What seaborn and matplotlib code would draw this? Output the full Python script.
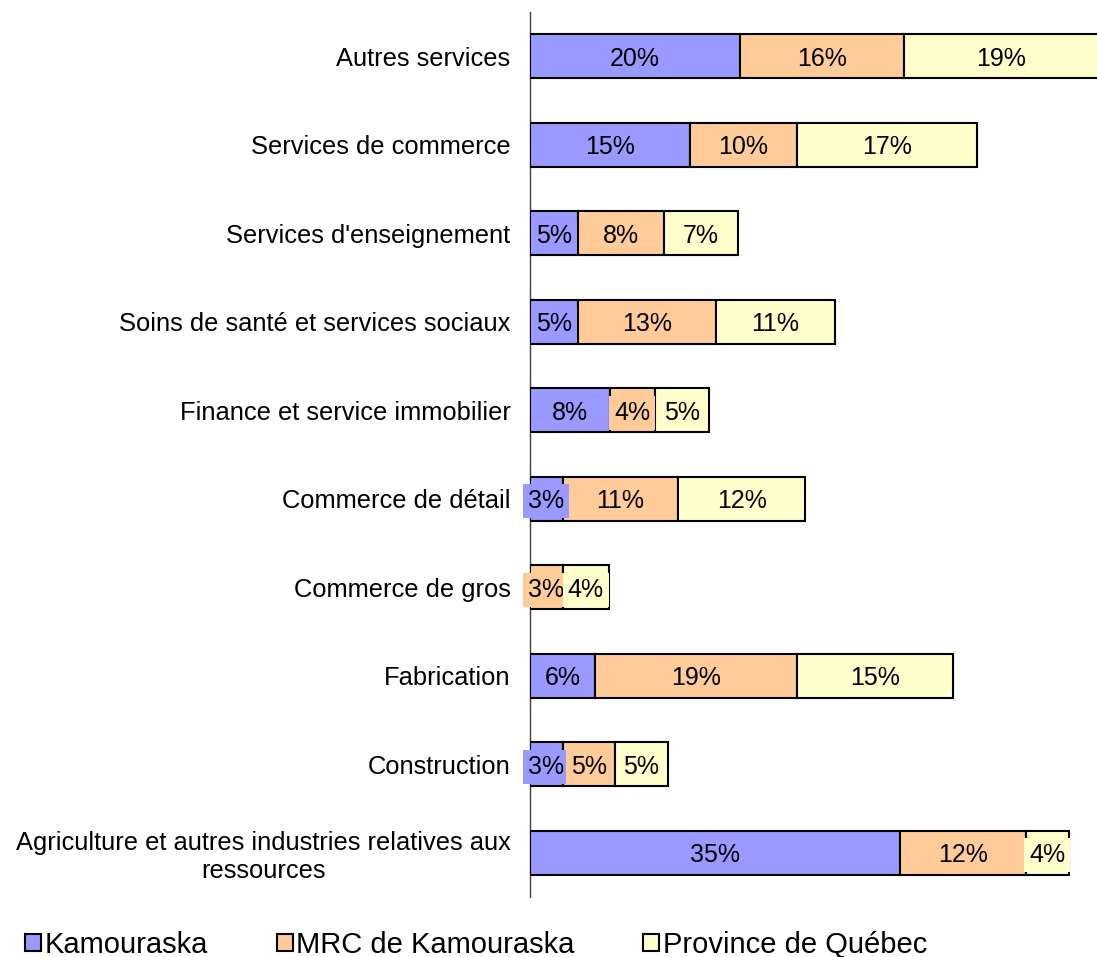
import matplotlib
matplotlib.use("Agg")
import matplotlib.pyplot as plt
from matplotlib.patches import Patch
import seaborn as sns
import pandas as pd
import numpy as np

categories = [
    "Autres services",
    "Services de commerce",
    "Services d'enseignement",
    "Soins de santé et services sociaux",
    "Finance et service immobilier",
    "Commerce de détail",
    "Commerce de gros",
    "Fabrication",
    "Construction",
    "Agriculture et autres industries relatives aux\nressources",
]
kamouraska = [20.0, 15.2, 4.6, 4.6, 7.6, 3.1, 0.0, 6.2, 3.1, 35.2]
mrc = [15.6, 10.2, 8.2, 13.1, 4.3, 11.0, 3.1, 19.2, 5.0, 12.0]
province = [18.6, 17.2, 7.0, 11.3, 5.1, 12.1, 4.4, 14.9, 5.0, 4.1]
series_names = ["Kamouraska", "MRC de Kamouraska", "Province de Québec"]
colors = ["#9999FF", "#FFCC99", "#FFFFCC"]

sns.set_style("white")
plt.rcParams["font.family"] = ["Liberation Sans", "DejaVu Sans"]

fig = plt.figure(figsize=(10.97, 9.57), dpi=100)
ax = fig.add_axes([530 / 1097, 1 - 897 / 957, 1 - 530 / 1097, (897 - 12) / 957])

series = [kamouraska, mrc, province]
lefts = np.zeros(len(categories))
for name, vals, col in zip(series_names, series, colors):
    df = pd.DataFrame({"cat": categories, "val": vals})
    sns.barplot(data=df, x="val", y="cat", order=categories, orient="y",
                color=col, saturation=1, width=0.5, left=lefts.copy(),
                edgecolor="black", linewidth=1.5, ax=ax, zorder=2)
    for i, v in enumerate(vals):
        if v > 0:
            ax.text(lefts[i] + v / 2, i, f"{v:.0f}%", ha="center",
                    va="center_baseline",
                    fontsize=18, color="black", zorder=5, clip_on=False,
                    bbox=dict(boxstyle="square,pad=0.2", facecolor=col,
                              edgecolor="none"))
    lefts += np.array(vals)

ax.set_xlim(0, 54)
ax.set_ylim(len(categories) - 0.5, -0.5)
ax.set_xlabel("")
ax.set_ylabel("")
ax.set_xticks([])
for s in ["top", "right", "bottom"]:
    ax.spines[s].set_visible(False)
ax.spines["left"].set_color("#404040")
ax.spines["left"].set_linewidth(1.0)
ax.spines["left"].set_zorder(1)
ax.tick_params(axis="y", length=0, pad=14, labelsize=18.4, labelcolor="black")
for lbl in ax.get_yticklabels():
    lbl.set_multialignment("center")

handles = [Patch(facecolor=c, edgecolor="black", linewidth=1.5) for c in colors]
fig.legend(handles, series_names, loc="center left",
           bbox_to_anchor=(0.023, 1 - 945 / 957), ncol=3, frameon=False,
           fontsize=21, labelcolor="black", handlelength=0.55, handleheight=0.55,
           handletextpad=0.12, columnspacing=2.35, borderaxespad=0, borderpad=0)

fig.savefig("out.png", dpi=100)
